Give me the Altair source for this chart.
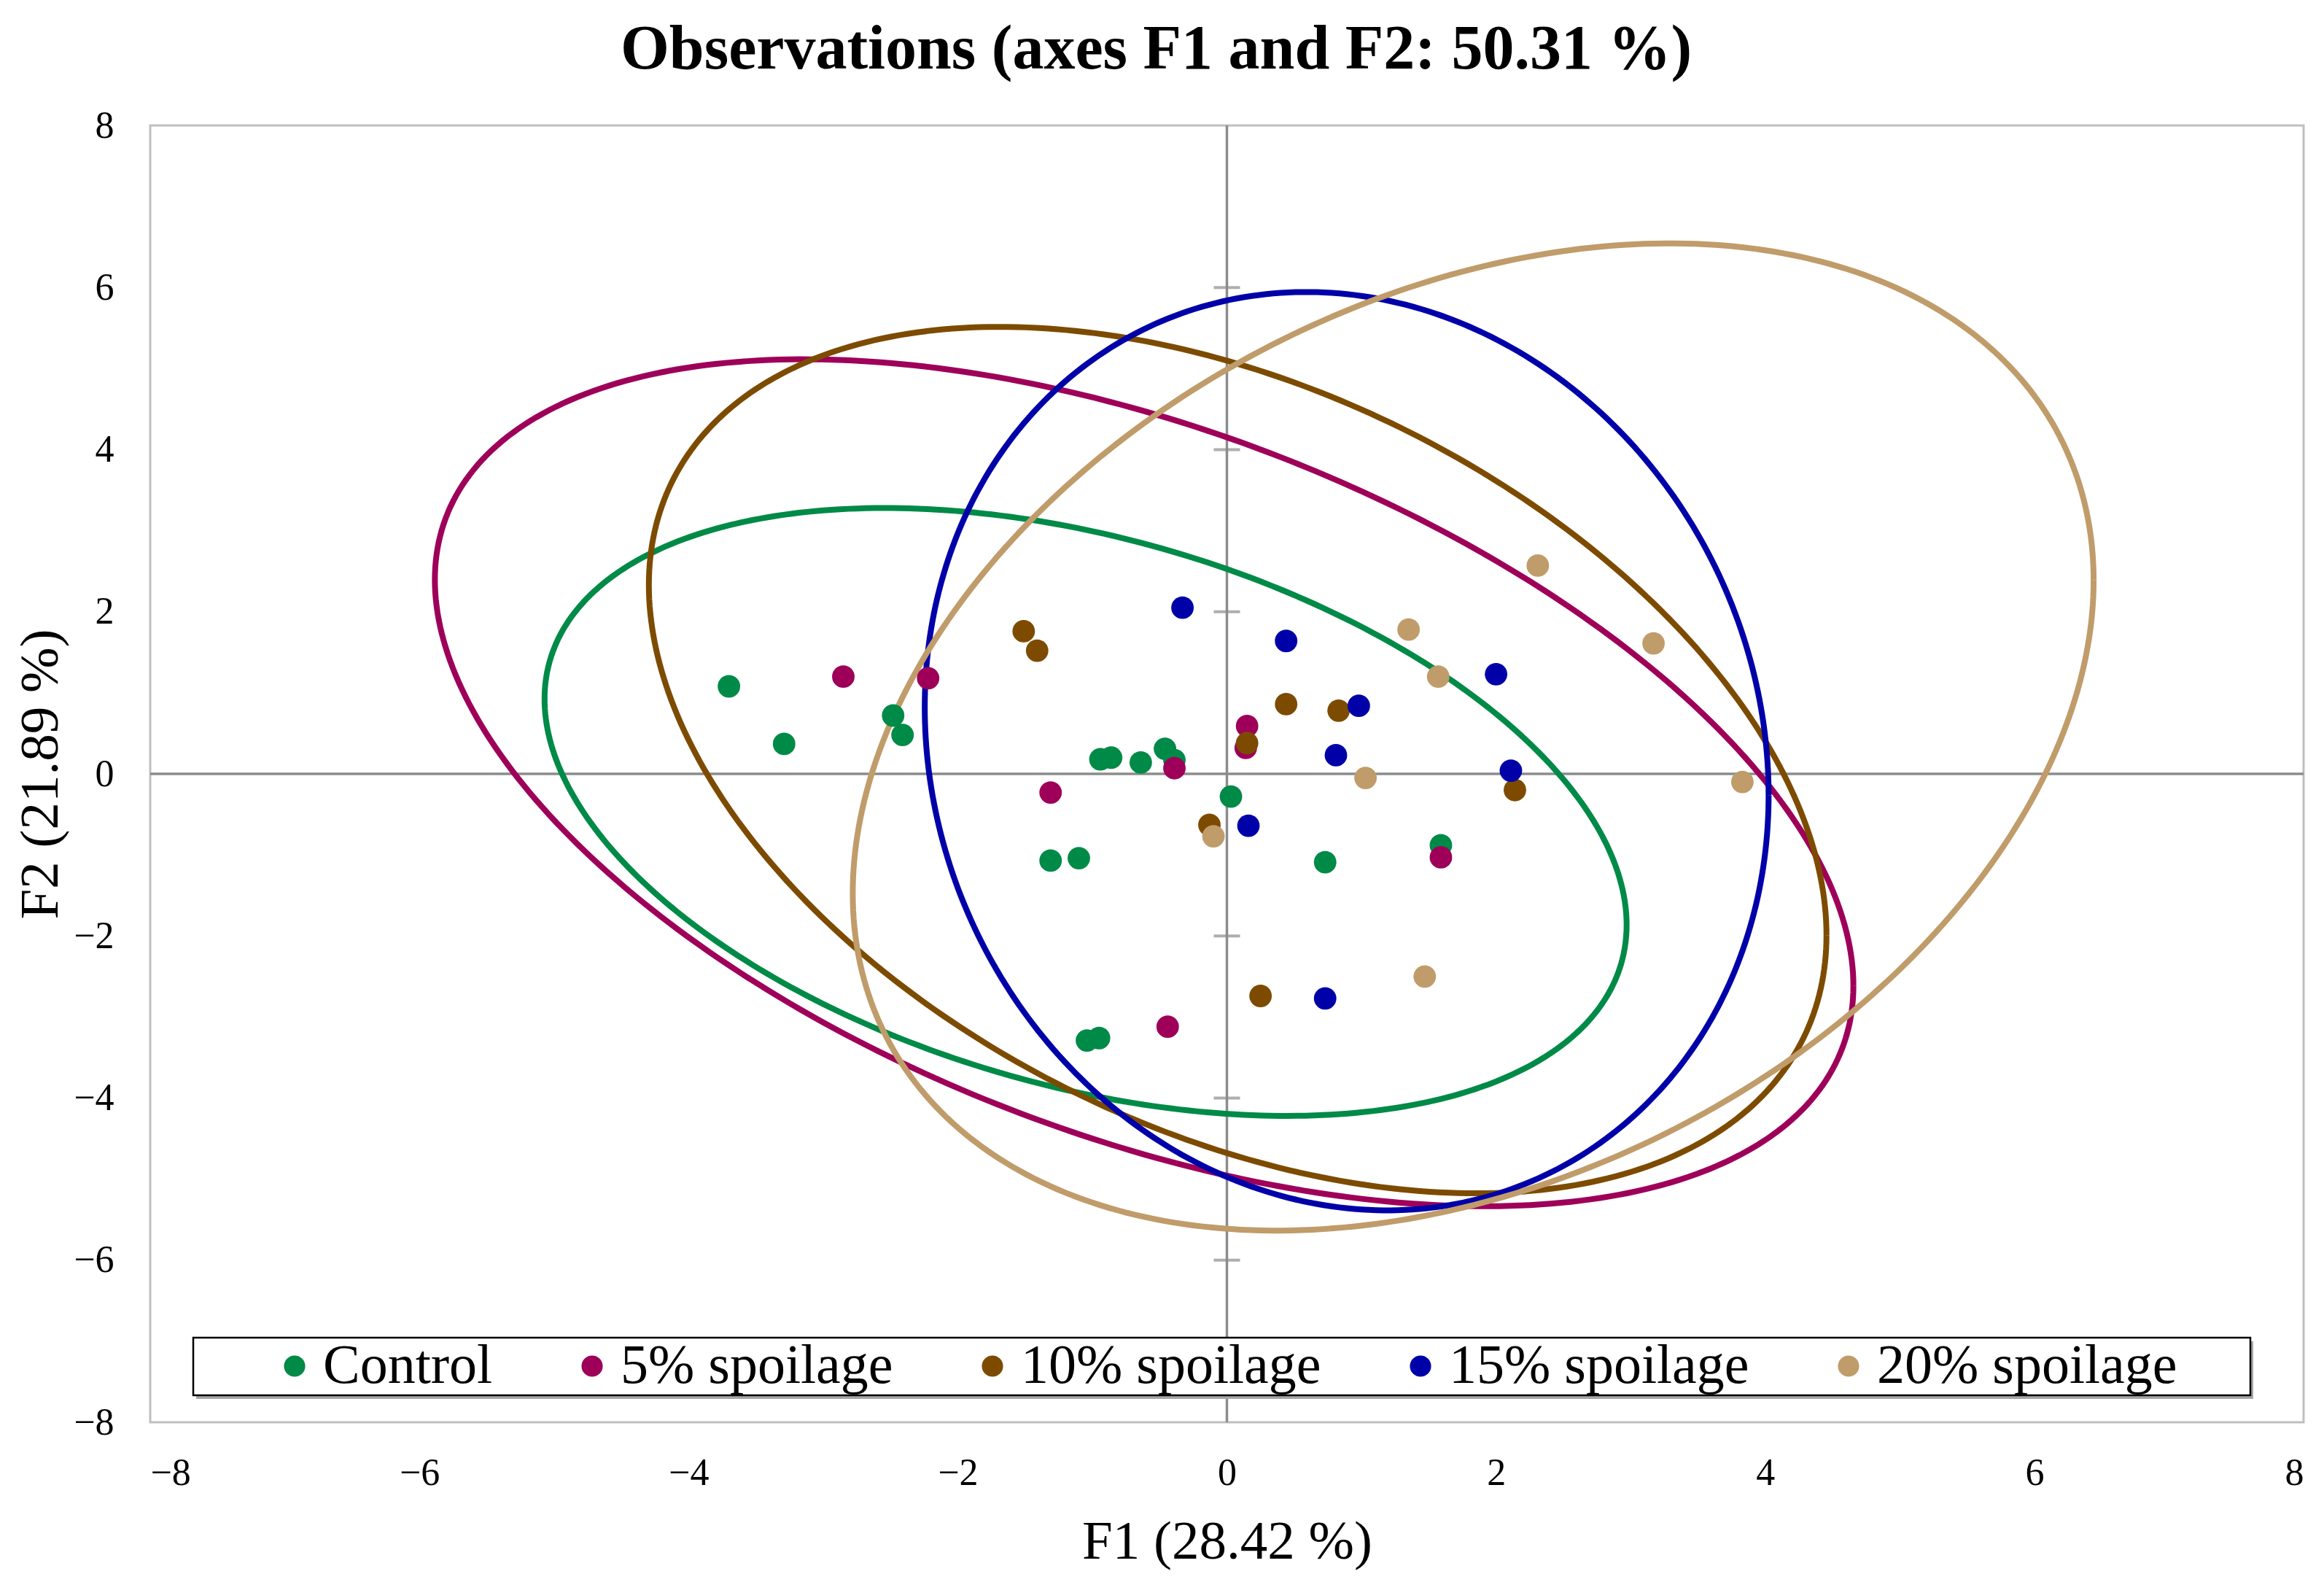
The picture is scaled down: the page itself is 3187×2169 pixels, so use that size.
import altair as alt
import numpy as np
import pandas as pd

# ---------------- data ----------------
groups = ["Control", "5% spoilage", "10% spoilage", "15% spoilage", "20% spoilage"]
colors = ["#008A47", "#9E0059", "#7D4B00", "#0000A8", "#C09C6A"]

control_x = [-3.70, -3.29, -2.48, -2.41, -0.94, -0.86, -0.64, -0.46, -0.39, 0.03, -1.31, -1.10, 0.73, 1.59, -1.04, -0.95]
control_y = [1.08, 0.37, 0.72, 0.48, 0.18, 0.20, 0.14, 0.31, 0.17, -0.28, -1.07, -1.04, -1.09, -0.88, -3.29, -3.26]

s5_x = [-2.85, -2.22, -1.31, -0.39, 0.15, 0.14, 1.59, -0.44]
s5_y = [1.20, 1.18, -0.23, 0.07, 0.59, 0.32, -1.03, -3.12]

s10_x = [-1.51, -1.41, 0.44, 0.83, 0.15, 2.14, -0.13, 0.25]
s10_y = [1.76, 1.52, 0.86, 0.78, 0.38, -0.20, -0.63, -2.74]

s15_x = [-0.33, 0.44, 0.98, 2.00, 0.81, 2.11, 0.16, 0.73]
s15_y = [2.05, 1.64, 0.84, 1.23, 0.23, 0.04, -0.64, -2.77]

s20_x = [1.35, 1.57, 1.03, 2.31, 3.17, 3.83, -0.10, 1.47]
s20_y = [1.78, 1.20, -0.05, 2.57, 1.61, -0.10, -0.77, -2.50]

# confidence ellipses: centre, half-extent along F1 / F2, cross term
ell_cx = [-1.05, -0.615, 0.08, 0.89, 1.83]
ell_cy = [-0.47, -0.11, 0.17, 0.28, 0.455]
ell_hx = [4.02, 5.27, 4.375, 3.135, 4.61]
ell_hy = [3.75, 5.225, 5.345, 5.665, 6.09]
ell_sxy = [-5.6, -13.2, -9.45, -1.7, 8.9]

axis_values = [-8, -6, -4, -2, 0, 2, 4, 6, 8]
zero_tick_values = [-6, -4, -2, 2, 4, 6]

title_text = "Observations (axes F1 and F2: 50.31 %)"
x_title = "F1 (28.42 %)"
y_title = "F2 (21.89 %)"

# ---------------- tables ----------------
pts_rows = []
for g, xs_, ys_ in zip(groups, [control_x, s5_x, s10_x, s15_x, s20_x],
                       [control_y, s5_y, s10_y, s15_y, s20_y]):
    for a, b in zip(xs_, ys_):
        pts_rows.append({"group": g, "x": a, "y": b})
points_df = pd.DataFrame(pts_rows)

t = np.linspace(0, 2 * np.pi, 361)
ell_rows = []
for g, cx, cy, hx, hy, s in zip(groups, ell_cx, ell_cy, ell_hx, ell_hy, ell_sxy):
    M = np.array([[hx ** 2, s], [s, hy ** 2]])
    L = np.linalg.cholesky(M)
    p = L @ np.vstack([np.cos(t), np.sin(t)])
    for i, (a, b) in enumerate(zip(p[0] + cx, p[1] + cy)):
        ell_rows.append({"series": g, "x": float(a), "y": float(b), "i": i})
ell_df = pd.DataFrame(ell_rows)

vline_df = pd.DataFrame({"x": [0], "y": [-8], "y2": [8]})
hline_df = pd.DataFrame({"y": [0], "x": [-8], "x2": [8]})
vtick_df = pd.DataFrame({"x": [0] * len(zero_tick_values), "y": zero_tick_values})
box_df = pd.DataFrame({"a": [0]})

# ---------------- encodings ----------------
FONT = "Liberation Serif"
xs = alt.Scale(domain=[-8, 8], nice=False, zero=False)
ys = alt.Scale(domain=[-8, 8], nice=False, zero=False)
xaxis = alt.Axis(values=axis_values, title=x_title, labelFont=FONT, labelFontSize=52,
                 labelColor="black", labelPadding=44, ticks=False, domain=False, grid=False,
                 titleFont=FONT, titleFontSize=75, titleFontWeight="normal",
                 titleColor="black", titlePadding=32)
yaxis = alt.Axis(values=axis_values, title=y_title, labelFont=FONT, labelFontSize=52,
                 labelColor="black", labelPadding=50, ticks=False, domain=False, grid=False,
                 titleFont=FONT, titleFontSize=75, titleFontWeight="normal",
                 titleColor="black", titlePadding=6)


def X():
    return alt.X("x:Q", scale=xs, axis=xaxis)


def Y():
    return alt.Y("y:Q", scale=ys, axis=yaxis)


shadow = alt.Chart(box_df).mark_rect(fill="#A6A6A6").encode(
    x=alt.value(63), x2=alt.value(2884), y=alt.value(1667), y2=alt.value(1746))
box = alt.Chart(box_df).mark_rect(fill="white", stroke="black", strokeWidth=2.5).encode(
    x=alt.value(59), x2=alt.value(2880), y=alt.value(1662), y2=alt.value(1741))

vline = alt.Chart(vline_df).mark_rule(color="#8C8C8C", strokeWidth=3.5).encode(
    x=X(), y=Y(), y2="y2:Q")
hline = alt.Chart(hline_df).mark_rule(color="#8C8C8C", strokeWidth=3.5).encode(
    x=X(), x2="x2:Q", y=Y())
vticks = alt.Chart(vtick_df).mark_tick(orient="horizontal", color="#8C8C8C",
                                      size=36, thickness=4).encode(x=X(), y=Y())

ellipses = alt.Chart(ell_df).mark_line(strokeWidth=8).encode(
    x=X(), y=Y(),
    color=alt.Color("series:N", scale=alt.Scale(domain=groups, range=colors), legend=None),
    detail="series:N",
    order="i:Q",
)

points = alt.Chart(points_df).mark_point(filled=True, size=950, opacity=1, shape="circle",
                                         strokeWidth=0).encode(
    x=X(), y=Y(),
    color=alt.Color("group:N", scale=alt.Scale(domain=groups, range=colors),
                    legend=alt.Legend(orient="none", legendX=160, legendY=1663,
                                      direction="horizontal", columns=5, title=None,
                                      labelFont=FONT, labelFontSize=76, labelColor="black",
                                      symbolSize=850, symbolType="circle",
                                      symbolStrokeWidth=0, symbolOpacity=1,
                                      labelOffset=1, columnPadding=98, padding=0,
                                      labelLimit=2000)),
)

chart = alt.layer(vline, hline, vticks, shadow, box, ellipses, points).resolve_scale(
    color="independent"
).properties(
    width=2953, height=1778,
    title=alt.TitleParams(text=title_text, font=FONT, fontSize=86, fontWeight="bold",
                          color="black", anchor="middle", dx=-97, offset=34),
    padding={"left": 198, "top": 164, "right": 10, "bottom": 205},
    autosize=alt.AutoSizeParams(type="none"),
    background="white",
).configure_view(stroke="#BFBFBF", strokeWidth=3)

chart.save("out.html", embed_options={"renderer": "svg", "actions": False})
